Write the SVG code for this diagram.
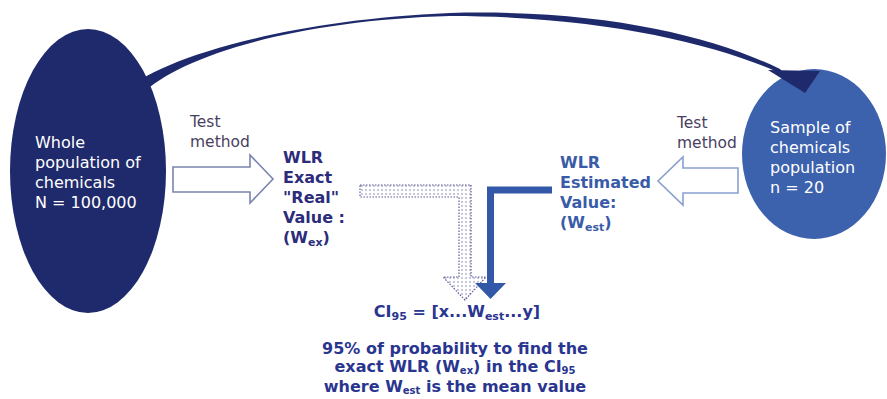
<svg xmlns="http://www.w3.org/2000/svg" width="887" height="399" viewBox="0 0 887 399">
<style>
.t{font-family:"DejaVu Sans","Liberation Sans",sans-serif;font-size:16px}
.w{fill:#ffffff}
.lab{fill:#4a3f62;font-size:15.5px}
.b{font-weight:bold}
.navy{fill:#2c2c7a}
.blue{fill:#3a5ca8}
.dk{fill:#2a3590}
.hollowL{fill:#ffffff;stroke:#7c84ae;stroke-width:1.6}
.hollowR{fill:#ffffff;stroke:#8aa0cf;stroke-width:1.6}
</style>
<defs>
<pattern id="dots" width="4" height="4" patternUnits="userSpaceOnUse">
<rect width="4" height="4" fill="#ffffff"/>
<circle cx="2" cy="2" r="0.7" fill="#6b6aa2"/>
</pattern>
</defs>
<g id="whole">
<ellipse cx="88" cy="171" rx="78" ry="142" fill="#1f2a6c"/>
<text class="t w" x="35" y="148">Whole</text>
<text class="t w" x="35" y="168">population of</text>
<text class="t w" x="35" y="188">chemicals</text>
<text class="t w" x="35" y="208">N = 100,000</text>
</g>
<g id="sample">
<ellipse cx="814" cy="154" rx="72" ry="85" fill="#3c61ad"/>
<text class="t w" x="770" y="133">Sample of</text>
<text class="t w" x="770" y="153">chemicals</text>
<text class="t w" x="770" y="173">population</text>
<text class="t w" x="770" y="193">n = 20</text>
</g>
<g id="test-left">
<text class="t lab" x="190" y="127">Test</text>
<text class="t lab" x="190" y="147">method</text>
</g>
<g id="test-right">
<text class="t lab" x="677" y="128">Test</text>
<text class="t lab" x="677" y="148">method</text>
</g>
<g id="wlr-exact">
<text class="t b navy" x="283" y="163">WLR</text>
<text class="t b navy" x="283" y="183">Exact</text>
<text class="t b navy" x="283" y="203">"Real"</text>
<text class="t b navy" x="283" y="223">Value :</text>
<text class="t b navy" x="283" y="243">(W<tspan font-size="11" dy="3">ex</tspan><tspan dy="-3">)</tspan></text>
</g>
<g id="wlr-est">
<text class="t b blue" x="560" y="168">WLR</text>
<text class="t b blue" x="560" y="188">Estimated</text>
<text class="t b blue" x="560" y="208">Value:</text>
<text class="t b blue" x="560" y="228">(W<tspan font-size="11" dy="3">est</tspan><tspan dy="-3">)</tspan></text>
</g>
<g id="ci">
<text class="t b dk" x="457" y="317" text-anchor="middle">CI<tspan font-size="11" dy="3">95</tspan><tspan dy="-3"> = [x...W</tspan><tspan font-size="11" dy="3">est</tspan><tspan dy="-3">...y]</tspan></text>
</g>
<g id="conclusion">
<text class="t b dk" x="455" y="354" text-anchor="middle" font-size="14.5">95% of probability to find the</text>
<text class="t b dk" x="455" y="372" text-anchor="middle" font-size="14.5">exact WLR (W<tspan font-size="10" dy="2">ex</tspan><tspan dy="-2">) in the CI</tspan><tspan font-size="10" dy="2">95</tspan></text>
<text class="t b dk" x="455" y="392" text-anchor="middle" font-size="14.5">where W<tspan font-size="10" dy="2">est</tspan><tspan dy="-2"> is the mean value</tspan></text>
</g>
<g id="connectors">
<path d="M124,93 C150,62 280,20 450,13 C600,9 710,35 780,69 L786,76 C720,44 600,16 450,16 C300,20 180,55 141,95 Z" fill="#1f2a6c"/>
<polygon points="768,70 820,71 805,93" fill="#1f2a6c"/>
<path class="hollowL" d="M173,167 L250,167 L250,155 L273,179 L250,203 L250,192 L173,192 Z"/>
<path class="hollowR" d="M738,168 L683,168 L683,157 L658,181 L683,205 L683,193 L738,193 Z"/>
<path d="M360,185 L471,185 L471,277 L486,277 L465,300 L443,277 L459,277 L459,197 L360,197 Z" fill="url(#dots)" stroke="#5d5a96" stroke-width="1.2" stroke-dasharray="1.5 1.5"/>
<polyline points="552,190 490.5,190 490.5,284" fill="none" stroke="#3358a8" stroke-width="7"/>
<polygon points="475,283 506,283 490.5,299" fill="#3358a8"/>
</g>
</svg>
